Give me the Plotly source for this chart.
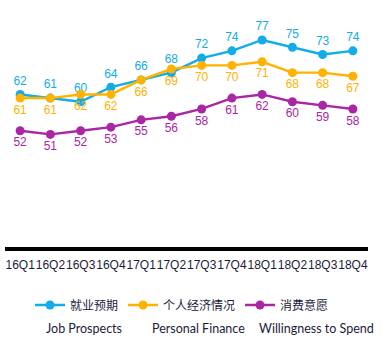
import plotly.graph_objects as go

quarters = ["16Q1", "16Q2", "16Q3", "16Q4", "17Q1", "17Q2", "17Q3", "17Q4",
            "18Q1", "18Q2", "18Q3", "18Q4"]
job_prospects = [62, 61, 60, 64, 66, 68, 72, 74, 77, 75, 73, 74]
personal_finance = [61, 61, 62, 62, 66, 69, 70, 70, 71, 68, 68, 67]
willingness = [52, 51, 52, 53, 55, 56, 58, 61, 62, 60, 59, 58]

names_cn = ["就业预期", "个人经济情况", "消费意愿"]
names_en = ["Job Prospects", "Personal Finance", "Willingness to Spend"]
colors = ["#12ACE8", "#FFB300", "#A926A6"]
series = [job_prospects, personal_finance, willingness]
positions = ["top center", "bottom center", "bottom center"]

W, H = 386, 351
ML, MR, MT, MB = 5, 18, 0, 104
PW, PH = W - ML - MR, H - MT - MB


def px_x(X):
    return (X - ML) / PW


def px_y(Y):
    return (H - MB - Y) / PH


fig = go.Figure()
for vals, name, col, pos in zip(series, names_cn, colors, positions):
    fig.add_trace(go.Scatter(
        x=quarters, y=vals, name=name, mode="lines+markers+text",
        line=dict(color=col, width=2.4),
        marker=dict(color=col, size=9),
        text=[str(v) for v in vals], textposition=pos,
        textfont=dict(family="Liberation Sans, Arial", size=12, color=col),
        cliponaxis=False,
    ))

for txt, xc in zip(names_en, [84, 198, 316]):
    fig.add_annotation(
        text=txt, x=px_x(xc), y=px_y(328), xref="paper", yref="paper",
        xanchor="center", yanchor="middle", showarrow=False,
        font=dict(family="Lato, Carlito, sans-serif", size=12.5, color="#1C1C3A"),
    )

fig.update_layout(
    width=W, height=H,
    margin=dict(l=ML, r=MR, t=MT, b=MB),
    paper_bgcolor="white", plot_bgcolor="white",
    showlegend=True,
    legend=dict(orientation="h", x=px_x(30), xanchor="left",
                y=px_y(305), yanchor="middle",
                font=dict(family="Noto Sans CJK SC", size=12, color="#1C1C3A"),
                itemwidth=30, tracegroupgap=0,
                bgcolor="rgba(0,0,0,0)"),
    xaxis=dict(type="category", range=[-0.5, 11.5], showgrid=False,
               showline=True, linecolor="black", linewidth=4,
               ticks="", zeroline=False, tickangle=0, ticklabelstandoff=4,
               tickfont=dict(family="Liberation Sans, Arial", size=12, color="#1C1C3A")),
    yaxis=dict(range=[20, 88], showgrid=False, showticklabels=False,
               zeroline=False, showline=False, ticks=""),
)

fig.write_html("out.html")
